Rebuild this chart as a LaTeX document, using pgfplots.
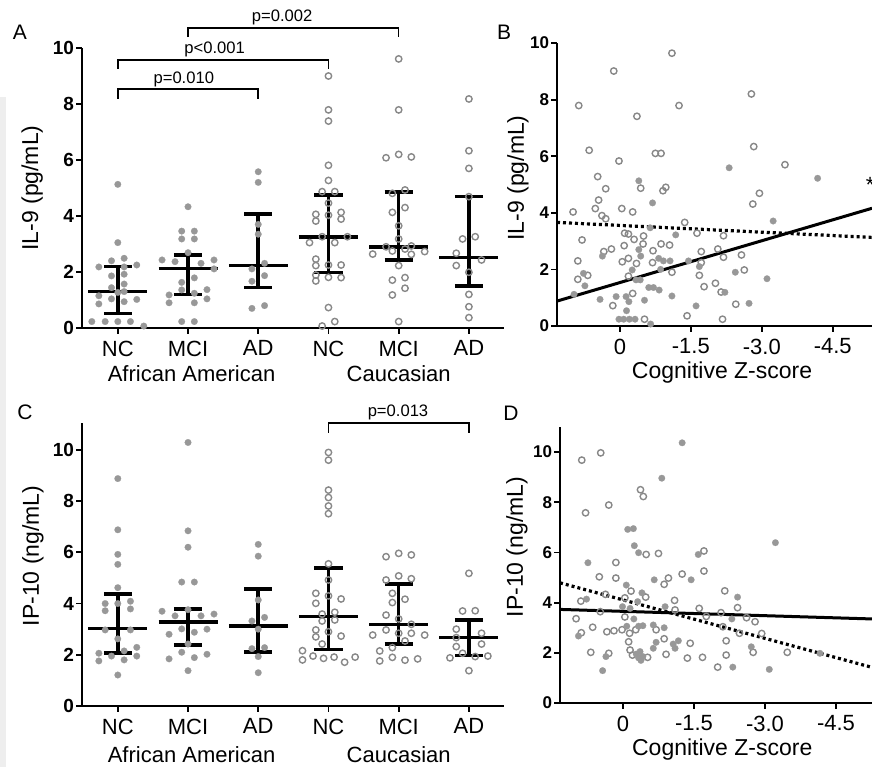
\documentclass[border=0pt]{standalone}
\usepackage{fontspec}
\setmainfont{Liberation Sans}
\usepackage{pgfplots}
\pgfplotsset{compat=1.18}

\definecolor{dotgray}{RGB}{152,152,152}
\definecolor{ringgray}{RGB}{136,136,136}
\definecolor{edgegray}{RGB}{238,238,238}

\pgfplotsset{
  panel/.style={
    scale only axis, clip=false,
    axis lines*=left,
    axis line style={-, line width=0.9pt},
    tick align=outside,
    major tick length=2.8pt,
    tick style={black, line width=0.9pt},
    /pgf/number format/assume math mode=true,
    yticklabel style={font=\fontsize{9.5}{10}\selectfont\bfseries, inner sep=1pt},
    xticklabel style={font=\fontsize{11}{12}\selectfont},
    label style={font=\fontsize{11.5}{13}\selectfont},
    ymin=0,
  },
  cat/.style={xmin=-0.51, xmax=5.5, xtick={0,...,5},
    xticklabels={NC,MCI,AD,NC,MCI,AD}, ytick={0,2,...,10}},
  zscore/.style={x dir=reverse, xtick={0,-1.5,-3,-4.5},
    xticklabels={0,-1.5,-3.0,-4.5}, ytick={0,2,...,10},
    xlabel={Cognitive Z-score},
    yticklabel style={font=\fontsize{8.5}{9}\selectfont\bfseries}},
  fdot/.style={only marks, mark=*, mark size=1.65pt,
    mark options={fill=dotgray, draw=dotgray, line width=0.1pt}},
  odot/.style={only marks, mark=o, mark size=1.6pt,
    mark options={draw=ringgray, line width=0.7pt}},
  bars/.style={black, line width=1.8pt, no marks, unbounded coords=jump},
  fit/.style={black, line width=1.5pt, no marks},
  dotfit/.style={black, line width=1.6pt, no marks, dash pattern=on 1.5pt off 1.5pt},
}

\begin{document}
\begin{tikzpicture}
\useasboundingbox (0,0) rectangle (436pt,383.5pt);
\fill[edgegray] (0,0) rectangle (3pt,335pt);

% ---------- A ----------
\begin{axis}[panel, cat, at={(41pt,219.5pt)}, anchor=south west,
  width=211pt, height=140pt, ymax=10,
  ylabel={IL-9 (pg/mL)},
  ylabel style={at={(axis description cs:-0.118,0.5)}, anchor=center}]
\addplot[fdot] coordinates {
 (0,5.13)(0,3.05)(-0.09,2.40)(0.09,2.49)(-0.27,2.18)(0.27,2.25)(0.09,2.18)
 (-0.09,1.86)(0.09,1.92)(-0.09,1.44)(0.09,1.57)(-0.27,1.15)(0,1.27)(0.09,1.30)
 (-0.27,0.86)(-0.09,1.04)(0.09,0.94)(0.27,1.02)(-0.37,0.23)(-0.18,0.23)(0,0.23)
 (0.18,0.23)(0.37,0.07)
 (1,4.33)(0.91,3.46)(1.09,3.46)(0.91,3.18)(1.09,3.18)(0.63,2.43)(0.815,2.37)
 (1.185,2.31)(1.37,2.43)(1,2.69)(1.37,2.11)(1.09,1.79)(0.91,1.63)(0.91,1.36)
 (1.27,1.37)(0.73,1.18)(1.09,1.24)(1.27,1.04)(0.73,0.90)(1.09,0.90)(0.91,0.23)(1.09,0.23)
 (2,5.58)(2,5.20)(2,3.70)(2,3.35)(2.09,2.31)(1.91,2.11)(2.09,1.87)(1.91,1.67)
 (1.91,0.70)(2.09,0.80)};
\addplot[odot] coordinates {
 (3,9.0)(3,7.79)(3,7.39)(3,5.81)(3,5.27)(2.91,4.87)(3.09,4.87)(3,4.46)(2.82,4.06)
 (3.18,4.13)(2.82,3.82)(3.18,3.89)(3,4.03)(2.91,3.26)(3.27,3.26)(2.73,3.05)(3.09,3.05)
 (2.82,2.46)(2.82,2.23)(3.18,2.25)(3,2.25)(2.82,1.89)(3,1.81)(3.18,1.80)(2.82,1.68)
 (3,0.73)(2.91,0.07)(3.09,0.23)
 (4,9.61)(4,7.79)(3.82,6.08)(4,6.20)(4.18,6.11)(4.09,4.93)(3.91,4.81)(4.09,4.30)
 (3.91,4.13)(4,3.65)(4,3.18)(3.63,2.64)(3.82,2.90)(4.09,2.82)(4.18,2.93)(4.37,2.73)
 (4.18,2.63)(3.91,2.75)(4,2.23)(3.91,1.71)(4.09,1.80)(4.09,1.42)(3.91,1.18)(4,0.23)
 (5,8.18)(5,6.33)(5,5.70)(5,4.69)(4.91,3.18)(5.09,3.26)(4.82,2.67)(4.82,2.23)
 (5.18,2.43)(5,1.99)(5,1.20)(5,0.76)(5,0.37)};
% median with interquartile range
\addplot[bars] coordinates {
 (-0.2,2.19)(0.2,2.19)(0,nan)(0,0.52)(0,2.19)(0,nan)(-0.2,0.52)(0.2,0.52)(0,nan)(-0.42,1.30)(0.42,1.30)(0,nan)
 (0.8,2.61)(1.2,2.61)(1,nan)(1,1.20)(1,2.61)(1,nan)(0.8,1.20)(1.2,1.20)(1,nan)(0.58,2.13)(1.42,2.13)(1,nan)
 (1.8,4.07)(2.2,4.07)(2,nan)(2,1.45)(2,4.07)(2,nan)(1.8,1.45)(2.2,1.45)(2,nan)(1.58,2.23)(2.42,2.23)(2,nan)
 (2.8,4.75)(3.2,4.75)(3,nan)(3,1.98)(3,4.75)(3,nan)(2.8,1.98)(3.2,1.98)(3,nan)(2.58,3.26)(3.42,3.26)(3,nan)
 (3.8,4.85)(4.2,4.85)(4,nan)(4,2.43)(4,4.85)(4,nan)(3.8,2.43)(4.2,2.43)(4,nan)(3.58,2.90)(4.42,2.90)(4,nan)
 (4.8,4.69)(5.2,4.69)(5,nan)(5,1.51)(5,4.69)(5,nan)(4.8,1.51)(5.2,1.51)(5,nan)(4.58,2.52)(5.42,2.52)};
\draw[line width=0.8pt] (axis cs:0,8.18) |- (axis cs:2,8.54) -- (axis cs:2,8.18);
\draw[line width=0.8pt] (axis cs:0,9.25) |- (axis cs:3,9.57) -- (axis cs:3,9.25);
\draw[line width=0.8pt] (axis cs:1,10.39) |- (axis cs:4,10.71) -- (axis cs:4,10.39);
\node[font=\fontsize{8.3}{9}\selectfont] at (axis cs:0.94,8.89) {p=0.010};
\node[font=\fontsize{8.3}{9}\selectfont] at (axis cs:1.38,9.96) {p<0.001};
\node[font=\fontsize{8.3}{9}\selectfont] at (axis cs:2.34,11.1) {p=0.002};
\node[font=\fontsize{11}{12}\selectfont, yshift=-23pt] at (axis cs:1.05,0) {African American};
\node[font=\fontsize{11}{12}\selectfont, yshift=-23pt] at (axis cs:4,0) {Caucasian};
\end{axis}

% ---------- B ----------
\begin{axis}[panel, zscore, at={(278.5pt,220.5pt)}, anchor=south west,
  width=157.5pt, height=141.5pt, ymax=10, xmin=-5.33, xmax=1.33,
  ylabel={IL-9 (pg/mL)},
  ylabel style={at={(axis description cs:-0.124,0.523)}, anchor=center},
  xlabel style={at={(axis description cs:0.524,0)}, anchor=center, yshift=-23.5pt}]
\addplot[odot] coordinates {
 (-1.10,9.64)(0.13,9.01)(0.87,7.79)(-1.25,7.79)(-0.36,7.41)(-2.78,8.20)(0.65,6.21)
 (-0.75,6.10)(-0.87,6.10)(0.02,5.83)(-2.83,6.34)(-3.49,5.70)(0.47,5.28)(0.30,4.85)
 (-0.44,4.87)(-0.91,4.78)(-0.97,4.90)(-2.95,4.69)(-2.81,4.31)(0.45,4.45)(0.52,4.15)
 (0.99,4.03)(0.38,3.90)(0.30,3.79)(-0.04,4.15)(-0.27,4.03)(-1.37,3.66)(0.80,3.04)
 (-0.10,3.28)(-0.18,3.25)(-0.30,3.06)(-0.50,3.18)(-0.49,2.90)(-1.63,3.28)(-2.19,3.19)
 (-0.09,2.84)(0.18,2.72)(0.34,2.63)(-0.70,2.66)(-0.87,2.90)(-1.05,2.86)(-1.72,2.63)
 (-2.07,2.72)(-2.57,2.51)(0.89,2.30)(-0.05,2.27)(-0.18,2.39)(-0.35,2.21)(-0.69,2.24)
 (-2.19,2.43)(-1.72,2.24)(-2.63,1.98)(-1.10,1.90)(-1.68,1.79)(0.89,1.65)(0.68,1.79)
 (-0.18,1.76)(-1.78,1.39)(-2.02,1.51)(-2.14,1.20)(-2.45,0.77)(0.15,0.72)(-1.42,0.36)
 (-2.17,0.24)(-0.27,1.15)(-0.52,0.24)};
\addplot[fdot] coordinates {
 (-0.40,5.13)(-0.69,4.35)(-2.31,5.59)(-4.18,5.22)(-3.24,3.71)(-1.18,3.22)(-0.64,3.47)
 (-0.40,2.70)(-0.44,2.47)(0.37,2.47)(-0.82,2.39)(-1.06,2.30)(-1.45,2.30)(-1.68,2.10)
 (-2.44,1.90)(-3.11,1.67)(0.77,1.86)(0.74,1.42)(0.97,1.12)(0.42,0.94)(0.08,1.04)
 (-0.13,1.04)(-0.19,0.86)(-0.14,0.54)(-0.52,0.91)(-0.61,1.36)(-0.71,1.36)(-0.83,1.27)
 (-1.10,1.06)(-1.61,0.71)(-2.22,1.19)(-2.73,0.80)(-0.34,1.63)(-0.43,1.63)(-0.26,1.98)
 (0.02,0.24)(-0.08,0.24)(-0.20,0.24)(-0.32,0.24)(-0.65,0.07)(-0.92,2.30)(-0.86,2.0)};
\addplot[fit] coordinates {(1.33,0.88)(-5.33,4.16)};
\addplot[dotfit] coordinates {(1.33,3.66)(-5.33,3.13)};
\node[font=\fontsize{11}{12}\selectfont] at (axis cs:-5.29,4.98) {*};
\end{axis}

% ---------- C ----------
\begin{axis}[panel, cat, at={(41pt,30.5pt)}, anchor=south west,
  width=211pt, height=141.5pt, ymax=11.05,
  ylabel={IP-10 (ng/mL)},
  ylabel style={at={(axis description cs:-0.116,0.53)}, anchor=center}]
\addplot[fdot] coordinates {
 (0,8.88)(0,6.88)(0,5.92)(0,5.53)(0,4.62)(-0.18,4.00)(0.18,4.09)(-0.18,3.72)(0.18,3.79)
 (0,4.0)(-0.18,2.97)(0.18,2.97)(0,2.62)(-0.27,2.06)(-0.09,1.95)(0.09,2.15)(0.27,2.29)
 (0.27,1.95)(-0.27,1.76)(0.09,1.80)(0,1.21)
 (1,10.29)(1,6.84)(1,6.20)(0.91,4.84)(1.09,4.84)(0.63,3.70)(0.815,3.52)(1.185,3.52)
 (1.37,3.59)(1,3.76)(0.73,2.80)(0.91,3.01)(1.09,2.88)(1.27,3.00)(1,2.42)(0.91,2.10)
 (1.27,2.02)(1.09,1.89)(0.73,1.84)(1,1.38)
 (2,6.31)(2,5.85)(2,4.14)(1.91,3.32)(2.09,3.46)(2,3.0)(1.91,2.24)(2.09,2.28)(2,1.93)(2,1.30)};
\addplot[odot] coordinates {
 (3,9.90)(3,9.60)(3,8.43)(3,8.14)(3,7.81)(3,7.51)(3,5.55)(3,4.92)(2.82,4.40)(3.18,4.18)
 (2.82,4.01)(3,4.3)(2.91,3.59)(3.09,3.66)(2.91,3.32)(3.09,3.36)(2.82,2.97)(3.18,2.73)
 (2.82,2.70)(3,2.9)(2.91,2.42)(2.63,2.16)(2.63,1.80)(2.78,1.95)(2.93,1.86)(3.08,1.91)
 (3.23,1.71)(3.38,1.91)
 (3.82,5.83)(4,5.96)(4.18,5.90)(3.82,4.92)(4,5.08)(4.18,4.97)(3.91,4.40)(4.09,4.17)
 (3.91,4.04)(3.82,3.55)(4,3.40)(4.18,3.19)(3.82,2.97)(3.63,2.77)(4,2.84)(4.18,2.84)
 (4.37,2.77)(4.09,2.54)(3.91,2.28)(3.73,2.15)(3.73,1.76)(3.91,1.90)(4.09,1.79)(4.27,1.84)
 (5,5.18)(4.91,3.71)(5.09,3.72)(4.82,3.00)(5.18,2.84)(4.82,2.67)(4.82,2.32)(5.18,2.42)
 (4.91,2.06)(4.73,1.88)(5.09,1.93)(5.27,1.95)(5,1.38)};
\addplot[bars] coordinates {
 (-0.2,4.37)(0.2,4.37)(0,nan)(0,2.06)(0,4.37)(0,nan)(-0.2,2.06)(0.2,2.06)(0,nan)(-0.42,3.03)(0.42,3.03)(0,nan)
 (0.8,3.78)(1.2,3.78)(1,nan)(1,2.38)(1,3.78)(1,nan)(0.8,2.38)(1.2,2.38)(1,nan)(0.58,3.29)(1.42,3.29)(1,nan)
 (1.8,4.57)(2.2,4.57)(2,nan)(2,2.12)(2,4.57)(2,nan)(1.8,2.12)(2.2,2.12)(2,nan)(1.58,3.12)(2.42,3.12)(2,nan)
 (2.8,5.38)(3.2,5.38)(3,nan)(3,2.21)(3,5.38)(3,nan)(2.8,2.21)(3.2,2.21)(3,nan)(2.58,3.49)(3.42,3.49)(3,nan)
 (3.8,4.77)(4.2,4.77)(4,nan)(4,2.42)(4,4.77)(4,nan)(3.8,2.42)(4.2,2.42)(4,nan)(3.58,3.19)(4.42,3.19)(4,nan)
 (4.8,3.36)(5.2,3.36)(5,nan)(5,1.97)(5,3.36)(5,nan)(4.8,1.97)(5.2,1.97)(5,nan)(4.58,2.68)(5.42,2.68)};
\draw[line width=0.8pt] (axis cs:3,10.66) |- (axis cs:5,11.05) -- (axis cs:5,10.66);
\node[font=\fontsize{8.3}{9}\selectfont] at (axis cs:3.99,11.48) {p=0.013};
\node[font=\fontsize{11}{12}\selectfont, yshift=-24.5pt] at (axis cs:1.05,0) {African American};
\node[font=\fontsize{11}{12}\selectfont, yshift=-24.5pt] at (axis cs:4,0) {Caucasian};
\end{axis}

% ---------- D ----------
\begin{axis}[panel, zscore, at={(280pt,32pt)}, anchor=south west,
  width=156pt, height=138pt, ymax=11, xmin=-5.26, xmax=1.33,
  ylabel={IP-10 (ng/mL)},
  ylabel style={at={(axis description cs:-0.138,0.565)}, anchor=center},
  xlabel style={at={(axis description cs:0.52,0)}, anchor=center, yshift=-23.5pt}]
\addplot[odot] coordinates {
 (0.87,9.68)(0.47,9.97)(0.79,7.58)(0.30,7.89)(-0.37,8.50)(-0.43,8.23)(-0.49,5.92)
 (-0.75,5.96)(-1.71,6.06)(-1.71,5.26)(0.15,5.60)(0.50,5.03)(0.15,4.98)(-0.17,4.46)
 (-0.87,4.73)(-0.96,4.98)(-1.25,5.14)(-2.15,4.47)(-2.42,3.80)(-1.09,4.09)(0.37,4.33)
 (0.89,4.06)(-0.48,4.22)(-0.04,4.19)(0.48,3.64)(0.99,3.36)(0.64,3.02)(0.34,2.84)
 (0.19,2.88)(0.02,2.92)(-0.04,3.43)(-0.14,2.78)(-0.27,2.92)(-0.70,2.92)(-1.10,3.71)
 (-1.61,3.77)(-2.07,3.60)(-1.76,3.45)(-2.11,3.04)(-2.46,2.78)(-2.61,3.40)(-2.79,3.24)
 (-2.93,2.77)(-0.87,2.56)(-1.42,2.38)(-2.18,2.48)(0.88,2.80)(0.68,2.02)(0.30,1.98)
 (-0.12,2.44)(-0.15,2.11)(-0.20,1.91)(-0.52,1.82)(-0.91,1.94)(-1.36,1.79)(-1.68,1.82)
 (-2.18,1.91)(-2.75,2.02)(-3.47,2.02)(-2.00,1.43)};
\addplot[fdot] coordinates {
 (-1.25,10.37)(-0.82,8.96)(-0.10,6.92)(-0.22,6.95)(-0.24,6.27)(-0.33,5.99)(-1.59,5.92)
 (-3.22,6.39)(0.74,5.59)(-0.66,4.91)(-1.44,4.91)(-2.42,4.22)(-0.07,4.70)(0.77,4.14)
 (-0.31,4.04)(-0.40,4.39)(0.01,3.84)(-0.15,3.77)(-0.89,3.84)(-0.23,3.35)(-2.30,3.35)
 (0.94,2.67)(-0.42,3.08)(-0.64,3.11)(-0.87,3.00)(-0.08,3.06)(-0.33,3.06)(-0.70,2.42)
 (-1.17,2.48)(-1.06,2.35)(-1.10,2.18)(-0.64,2.18)(0.36,1.85)(-0.28,1.95)(-0.33,1.80)
 (-0.38,1.70)(-0.42,1.85)(-0.36,2.05)(-2.71,2.24)(-2.32,1.43)(-3.09,1.34)(0.43,1.29)
 (-4.16,1.98)};
\addplot[fit] coordinates {(1.33,3.73)(-5.26,3.35)};
\addplot[dotfit] coordinates {(1.33,4.79)(-5.26,1.42)};
\end{axis}

% panel letters
\node[font=\fontsize{10.5}{12}\selectfont] at (10pt,367.5pt) {A};
\node[font=\fontsize{10.5}{12}\selectfont] at (252pt,367.5pt) {B};
\node[font=\fontsize{10.5}{12}\selectfont] at (12.5pt,177.5pt) {C};
\node[font=\fontsize{10.5}{12}\selectfont] at (255.5pt,177pt) {D};
\end{tikzpicture}
\end{document}
